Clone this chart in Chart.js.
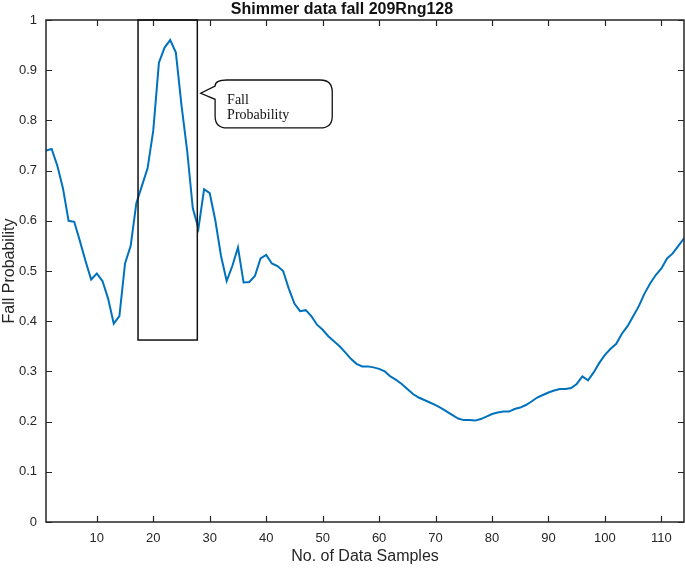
<!DOCTYPE html>
<html>
<head>
<meta charset="utf-8">
<script src="https://cdn.jsdelivr.net/npm/chart.js@4.4.1/dist/chart.umd.min.js"></script>
<style>
    html, body { margin: 0; padding: 0; background: #fff; }
    #wrap { width: 685px; height: 568px; }
</style>
</head>
<body>
<div id="wrap"><canvas id="myChart" width="685" height="568"></canvas></div>
<script>
// sample index 1..114
const samples = [];
for (let i = 1; i <= 114; i++) samples.push(i);

// fall probability
const fallProb = [
    0.740, 0.743, 0.710, 0.665, 0.600, 0.598, 0.560, 0.520, 0.483, 0.495,
    0.480, 0.445, 0.395, 0.410, 0.515, 0.550, 0.635, 0.670, 0.705, 0.780,
    0.915, 0.945, 0.960, 0.935, 0.830, 0.740, 0.625, 0.585, 0.663, 0.655,
    0.600, 0.530, 0.480, 0.510, 0.547, 0.477, 0.478, 0.490, 0.525, 0.532,
    0.515, 0.510, 0.500, 0.465, 0.435, 0.420, 0.422, 0.410, 0.393, 0.383,
    0.370, 0.360, 0.350, 0.338, 0.325, 0.315, 0.310, 0.310, 0.308, 0.305,
    0.300, 0.290, 0.283, 0.275, 0.265, 0.255, 0.248, 0.243, 0.238, 0.233,
    0.227, 0.220, 0.213, 0.206, 0.203, 0.203, 0.202, 0.205, 0.210, 0.215,
    0.218, 0.220, 0.220, 0.225, 0.228, 0.233, 0.240, 0.248, 0.253, 0.258,
    0.262, 0.265, 0.265, 0.267, 0.275, 0.290, 0.282, 0.298, 0.317, 0.333,
    0.345, 0.355, 0.375, 0.390, 0.410, 0.430, 0.455, 0.475, 0.492, 0.505,
    0.525, 0.535, 0.550, 0.565
];

const xTicks = [10, 20, 30, 40, 50, 60, 70, 80, 90, 100, 110];
const yTicks = [0, 0.1, 0.2, 0.3, 0.4, 0.5, 0.6, 0.7, 0.8, 0.9, 1];

// highlight box and callout, in data units
const boxX = [17.3, 27.8];
const boxY = [0.3625, 1.0];
const calloutX = [30.95, 51.7];
const calloutY = [0.785, 0.8805];
const calloutTip = [28.4, 0.854];
const calloutText = ['Fall', 'Probability'];

const points = samples.map((x, i) => ({x: x, y: fallProb[i]}));

const axisColor = '#262626';

// matlab style box with inward ticks + annotation
const boxPlugin = {
    id: 'matlabBox',
    afterDraw(chart) {
        const ctx = chart.ctx;
        const a = chart.chartArea;
        const xs = chart.scales.x, ys = chart.scales.y;
        const tl = 6;
        ctx.save();
        ctx.strokeStyle = axisColor;
        ctx.lineWidth = 1.5;
        ctx.strokeRect(a.left, a.top, a.right - a.left, a.bottom - a.top);
        ctx.lineWidth = 1.2;
        ctx.beginPath();
        xTicks.forEach(v => {
            const px = Math.round(xs.getPixelForValue(v)) + 0.5;
            ctx.moveTo(px, a.bottom); ctx.lineTo(px, a.bottom - tl);
            ctx.moveTo(px, a.top); ctx.lineTo(px, a.top + tl);
        });
        yTicks.forEach(v => {
            const py = Math.round(ys.getPixelForValue(v)) + 0.5;
            ctx.moveTo(a.left, py); ctx.lineTo(a.left + tl, py);
            ctx.moveTo(a.right, py); ctx.lineTo(a.right - tl, py);
        });
        ctx.stroke();

        // highlight rectangle
        const x1 = xs.getPixelForValue(boxX[0]), x2 = xs.getPixelForValue(boxX[1]);
        const y1 = ys.getPixelForValue(boxY[1]), y2 = ys.getPixelForValue(boxY[0]);
        ctx.strokeStyle = '#111';
        ctx.lineWidth = 1.5;
        ctx.strokeRect(x1, y1, x2 - x1, y2 - y1);

        // speech bubble
        const l = xs.getPixelForValue(calloutX[0]), r = xs.getPixelForValue(calloutX[1]);
        const t = ys.getPixelForValue(calloutY[1]), b = ys.getPixelForValue(calloutY[0]);
        const tx = xs.getPixelForValue(calloutTip[0]), ty = ys.getPixelForValue(calloutTip[1]);
        const rad = 12;
        ctx.beginPath();
        ctx.moveTo(l + rad, t);
        ctx.lineTo(r - rad, t);
        ctx.quadraticCurveTo(r, t, r, t + rad);
        ctx.lineTo(r, b - rad);
        ctx.quadraticCurveTo(r, b, r - rad, b);
        ctx.lineTo(l + rad, b);
        ctx.quadraticCurveTo(l, b, l, b - rad);
        ctx.lineTo(l, ty + 6);
        ctx.lineTo(tx, ty);
        ctx.lineTo(l, t + 6);
        ctx.quadraticCurveTo(l, t, l + rad, t);
        ctx.closePath();
        ctx.fillStyle = '#fff';
        ctx.fill();
        ctx.lineWidth = 1.3;
        ctx.stroke();

        ctx.fillStyle = '#111';
        ctx.font = '14px "Liberation Serif", serif';
        ctx.textBaseline = 'alphabetic';
        ctx.fillText(calloutText[0], l + 12, t + 24);
        ctx.fillText(calloutText[1], l + 12, t + 39);
        ctx.restore();
    }
};

const data = {
    datasets: [{
        data: points,
        borderColor: '#0072BD',
        borderWidth: 2,
        pointRadius: 0,
        tension: 0,
        fill: false
    }]
};

const config = {
    type: 'line',
    data: data,
    options: {
        responsive: false,
        animation: false,
        parsing: false,
        layout: {padding: {left: 0, right: 1, top: 0, bottom: 0}},
        plugins: {
            legend: {display: false},
            tooltip: {enabled: false},
            title: {
                display: true,
                text: 'Shimmer data fall 209Rng128',
                color: '#111',
                font: {family: 'Arial, "Liberation Sans", sans-serif', size: 16, weight: 'bold', lineHeight: 1.2},
                padding: {top: 0, bottom: 0.8}
            }
        },
        scales: {
            x: {
                type: 'linear',
                min: 1,
                max: 114,
                grid: {display: false, drawTicks: false},
                border: {display: false},
                afterBuildTicks: s => { s.ticks = xTicks.map(v => ({value: v})); },
                afterFit: s => { s.height = 46; },
                ticks: {
                    color: axisColor,
                    padding: 9,
                    maxRotation: 0,
                    font: {family: 'Arial, "Liberation Sans", sans-serif', size: 13}
                },
                title: {
                    display: true,
                    text: 'No. of Data Samples',
                    color: axisColor,
                    font: {family: 'Arial, "Liberation Sans", sans-serif', size: 16},
                    padding: {top: 2, bottom: 2}
                }
            },
            y: {
                min: 0,
                max: 1,
                grid: {display: false, drawTicks: false},
                border: {display: false},
                afterBuildTicks: s => { s.ticks = yTicks.map(v => ({value: v})); },
                afterFit: s => { s.width = 46; },
                ticks: {
                    color: axisColor,
                    padding: 9,
                    font: {family: 'Arial, "Liberation Sans", sans-serif', size: 13},
                    callback: v => String(Math.round(v * 10) / 10)
                },
                title: {
                    display: true,
                    text: 'Fall Probability',
                    color: axisColor,
                    font: {family: 'Arial, "Liberation Sans", sans-serif', size: 16},
                    padding: {top: 0, bottom: 2}
                }
            }
        }
    },
    plugins: [boxPlugin]
};

const myChart = new Chart(document.getElementById('myChart').getContext('2d'), config);
</script>
</body>
</html>
